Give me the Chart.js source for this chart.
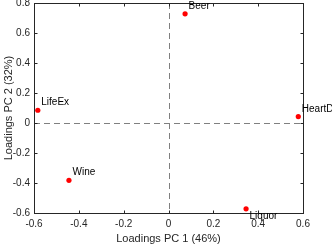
<!DOCTYPE html>
<html>
<head>
<meta charset="utf-8">
<script src="https://cdn.jsdelivr.net/npm/chart.js@4.4.0/dist/chart.umd.min.js"></script>
<style>
  html, body { margin: 0; padding: 0; background: #fff; }
  #wrap { width: 332px; height: 245px; }
</style>
</head>
<body>
<div id="wrap"><canvas id="pcaChart" width="332" height="245"></canvas></div>
<script>
// ========== DATA ==========
const varNames = ['LifeEx', 'Beer', 'HeartD', 'Wine', 'Liquor'];
const pc1Loadings = [-0.583, 0.074, 0.579, -0.444, 0.346];
const pc2Loadings = [0.085, 0.728, 0.043, -0.382, -0.572];
const xTicks = [-0.6, -0.4, -0.2, 0, 0.2, 0.4, 0.6];
const yTicks = [-0.6, -0.4, -0.2, 0, 0.2, 0.4, 0.6, 0.8];
const xTitle = 'Loadings PC 1 (46%)';
const yTitle = 'Loadings PC 2 (32%)';

const AXIS_COLOR = '#262626';
const FONT = 'Arial, "Liberation Sans", Helvetica, sans-serif';

function fmtTick(v) {
    if (Math.abs(v) < 1e-9) return '0';
    return v.toFixed(1);
}

/**
 * Caja, ticks hacia dentro, líneas de referencia y etiquetas
 */
const loadingsDecor = {
    id: 'loadingsDecor',
    beforeDatasetsDraw(chart) {
        const { ctx, chartArea: a, scales: { x, y } } = chart;
        ctx.save();
        // líneas discontinuas en x=0 e y=0
        ctx.strokeStyle = '#808080';
        ctx.lineWidth = 1;
        ctx.setLineDash([6, 4]);
        const x0 = Math.round(x.getPixelForValue(0)) + 0.5;
        const y0 = Math.round(y.getPixelForValue(0)) + 0.5;
        ctx.beginPath();
        ctx.moveTo(x0, a.top); ctx.lineTo(x0, a.bottom);
        ctx.moveTo(a.left, y0); ctx.lineTo(a.right, y0);
        ctx.stroke();
        ctx.setLineDash([]);

        // caja
        ctx.strokeStyle = AXIS_COLOR;
        const L = Math.round(a.left) + 0.5, R = Math.round(a.right) + 0.5;
        const T = Math.round(a.top) + 0.5, B = Math.round(a.bottom) + 0.5;
        ctx.strokeRect(L, T, R - L, B - T);

        // ticks hacia dentro
        const tl = 3;
        ctx.beginPath();
        x.ticks.forEach(t => {
            const px = Math.round(x.getPixelForValue(t.value)) + 0.5;
            ctx.moveTo(px, B); ctx.lineTo(px, B - tl);
            ctx.moveTo(px, T); ctx.lineTo(px, T + tl);
        });
        y.ticks.forEach(t => {
            const py = Math.round(y.getPixelForValue(t.value)) + 0.5;
            ctx.moveTo(L, py); ctx.lineTo(L + tl, py);
            ctx.moveTo(R, py); ctx.lineTo(R - tl, py);
        });
        ctx.stroke();
        ctx.restore();
    },
    afterDatasetsDraw(chart) {
        const { ctx } = chart;
        const meta = chart.getDatasetMeta(0);
        ctx.save();
        ctx.fillStyle = '#000';
        ctx.font = '10px ' + FONT;
        ctx.textAlign = 'left';
        ctx.textBaseline = 'middle';
        meta.data.forEach((pt, i) => {
            const below = varNames[i] === 'Liquor';
            ctx.fillText(varNames[i], pt.x + 3.5, pt.y + (below ? 7.5 : -7.8));
        });
        ctx.restore();
    }
};

const ctx = document.getElementById('pcaChart');

new Chart(ctx, {
    type: 'scatter',
    data: {
        datasets: [{
            data: pc1Loadings.map((v, i) => ({ x: v, y: pc2Loadings[i] })),
            backgroundColor: '#ff0000',
            borderColor: '#ff0000',
            borderWidth: 0,
            pointRadius: 2.6,
            pointHoverRadius: 2.6
        }]
    },
    options: {
        responsive: false,
        animation: false,
        devicePixelRatio: 1,
        layout: { padding: { top: 3, right: 29, left: 0, bottom: 0 } },
        plugins: {
            legend: { display: false },
            tooltip: { enabled: false }
        },
        scales: {
            x: {
                type: 'linear',
                min: -0.6,
                max: 0.6,
                afterBuildTicks: s => { s.ticks = xTicks.map(v => ({ value: v })); },
                afterFit: s => { s.height = 32; s.paddingLeft = 0; s.paddingRight = 0; },
                grid: { display: false, drawTicks: false },
                border: { display: false },
                ticks: {
                    color: AXIS_COLOR,
                    font: { size: 10, family: FONT },
                    padding: 5,
                    maxRotation: 0,
                    callback: v => fmtTick(v)
                },
                title: {
                    display: true,
                    text: xTitle,
                    color: AXIS_COLOR,
                    font: { size: 11, family: FONT, lineHeight: 1.1 },
                    padding: { top: 0, bottom: 0 }
                }
            },
            y: {
                type: 'linear',
                min: -0.6,
                max: 0.8,
                afterBuildTicks: s => { s.ticks = yTicks.map(v => ({ value: v })); },
                afterFit: s => { s.width = 34; s.paddingTop = 0; s.paddingBottom = 0; },
                grid: { display: false, drawTicks: false },
                border: { display: false },
                ticks: {
                    color: AXIS_COLOR,
                    font: { size: 10, family: FONT },
                    padding: 4,
                    callback: v => fmtTick(v)
                },
                title: {
                    display: true,
                    text: yTitle,
                    color: AXIS_COLOR,
                    font: { size: 11, family: FONT, lineHeight: 1.1 },
                    padding: { top: 3, bottom: 0 }
                }
            }
        }
    },
    plugins: [loadingsDecor]
});
</script>
</body>
</html>
